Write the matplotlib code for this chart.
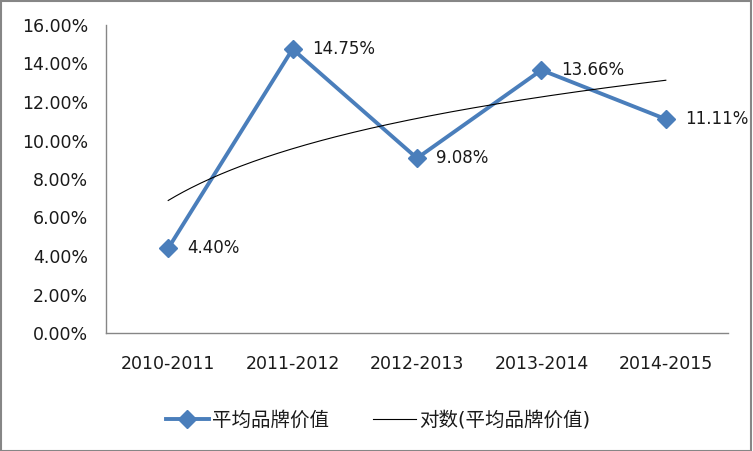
import numpy as np
import matplotlib
matplotlib.use("Agg")
import matplotlib.pyplot as plt
from matplotlib.patches import Rectangle

plt.rcParams['font.family'] = ['DejaVu Sans', 'Noto Sans CJK SC']

categories = ["2010-2011", "2011-2012", "2012-2013", "2013-2014", "2014-2015"]
values = [4.40, 14.75, 9.08, 13.66, 11.11]
labels = ["4.40%", "14.75%", "9.08%", "13.66%", "11.11%"]
series_name = "平均品牌价值"
trend_name = "对数(平均品牌价值)"
yticks = [0, 2, 4, 6, 8, 10, 12, 14, 16]

x = np.arange(1, len(values) + 1)
a, b = np.polyfit(np.log(x), values, 1)
xt = np.linspace(1, len(values), 200)
yt = a * np.log(xt) + b

fs = 12.5
fig = plt.figure(figsize=(7.53, 4.51), dpi=100)
fig.patches.append(Rectangle((0.001, 0.001), 0.997, 0.996, transform=fig.transFigure,
                             fill=False, edgecolor='#868686', linewidth=1.5))
ax = fig.add_axes([106/753, 118/451, 622/753, 308/451])
color = '#4A7EBB'
ax.plot(x, values, color=color, linewidth=2.8, marker='D', markersize=9.5,
        label=series_name, zorder=3)
ax.plot(xt, yt, color='black', linewidth=0.8, label=trend_name, zorder=4)
for xi, v, l in zip(x, values, labels):
    ax.annotate(l, (xi, v), xytext=(14, 0), textcoords='offset points',
                ha='left', va='center', fontsize=12, color='#1a1a1a')

ax.set_xlim(0.5, len(values) + 0.5)
ax.set_ylim(0, 16)
ax.set_xticks(x)
ax.set_xticklabels(categories)
ax.set_yticks(yticks)
ax.set_yticklabels([f"{t:.2f}%" for t in yticks])
ax.tick_params(axis='both', length=0, labelsize=fs, colors='#1a1a1a')
ax.tick_params(axis='y', pad=13)
ax.tick_params(axis='x', pad=16)
for s in ['top', 'right']:
    ax.spines[s].set_visible(False)
for s in ['left', 'bottom']:
    ax.spines[s].set_color('#868686')
    ax.spines[s].set_linewidth(1.0)

leg = fig.legend(loc='center', bbox_to_anchor=(378/753, 1 - 420/451), ncol=2,
                 frameon=False, prop={'size': 14}, handlelength=2.2, columnspacing=2.3,
                 handletextpad=0.15)
for t in leg.get_texts():
    t.set_color('#1a1a1a')
fig.savefig("out.png", dpi=100)
